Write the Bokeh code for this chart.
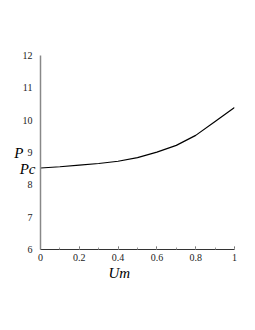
from bokeh.plotting import figure
from bokeh.models import Range1d, FixedTicker, LinearAxis, Title
from bokeh.embed import file_html
from bokeh.resources import INLINE

um = [0.0, 0.1, 0.2, 0.3, 0.4, 0.5, 0.6, 0.7, 0.8, 0.9, 1.0]
p_vals = [8.52, 8.56, 8.61, 8.66, 8.73, 8.84, 9.01, 9.22, 9.53, 9.96, 10.39]
x_ticks = [0, 0.2, 0.4, 0.6, 0.8, 1]
y_ticks = [6, 7, 8, 9, 10, 11, 12]
pc_value = 8.5

SERIF = "Liberation Serif"

p = figure(width=239, height=314, output_backend="svg", toolbar_location=None,
           x_range=Range1d(0, 1), y_range=Range1d(6, 12),
           min_border_left=40, min_border_right=5, min_border_top=55, min_border_bottom=65)
p.outline_line_color = None
p.xgrid.visible = False
p.ygrid.visible = False

p.line(um, p_vals, line_color="black", line_width=1.2)

# x axis
p.xaxis.ticker = FixedTicker(ticks=x_ticks, minor_ticks=[i / 10 for i in range(11)])
p.xaxis.major_label_overrides = {0: "0", 1: "1"}
p.xaxis.major_label_text_font = SERIF
p.xaxis.major_label_text_font_size = "10px"
p.xaxis.major_label_text_color = "#222222"
p.xaxis.major_tick_out = 0
p.xaxis.minor_tick_out = 0
p.xaxis.major_tick_in = 3
p.xaxis.minor_tick_in = 2
p.xaxis.axis_line_color = "#333333"
p.xaxis.major_tick_line_color = "#555555"
p.xaxis.minor_tick_line_color = "#999999"
p.xaxis.major_label_standoff = 4

# inner left axis: axis line + "Pc" marker label
ya = p.yaxis[0]
ya.ticker = FixedTicker(ticks=[pc_value])
ya.major_label_overrides = {pc_value: "Pc"}
ya.major_label_text_font = SERIF
ya.major_label_text_font_style = "italic"
ya.major_label_text_font_size = "15px"
ya.major_label_text_color = "black"
ya.major_tick_in = 0
ya.major_tick_out = 0
ya.minor_tick_line_color = None
ya.major_tick_line_color = None
ya.axis_line_color = "#888888"
ya.axis_line_width = 1.5
ya.major_label_standoff = 5

# outer left axis: numeric tick labels + "P" label
yb = LinearAxis(ticker=FixedTicker(ticks=y_ticks))
yb.major_label_text_font = SERIF
yb.major_label_text_font_size = "10px"
yb.major_label_text_color = "#222222"
yb.axis_line_color = None
yb.major_tick_line_color = None
yb.minor_tick_line_color = None
yb.major_tick_in = 0
yb.major_tick_out = 0
yb.major_label_standoff = -16
yb.axis_label = "P"
yb.axis_label_orientation = "horizontal"
yb.axis_label_text_font = SERIF
yb.axis_label_text_font_style = "italic"
yb.axis_label_text_font_size = "15px"
yb.axis_label_text_color = "black"
yb.axis_label_standoff = -4
p.add_layout(yb, "left")

p.add_layout(Title(text="Um", align="left", offset=68, standoff=-2,
                   text_font=SERIF, text_font_style="italic",
                   text_font_size="15px", text_color="black"), "below")

open("out.html", "w").write(file_html(p, INLINE))
